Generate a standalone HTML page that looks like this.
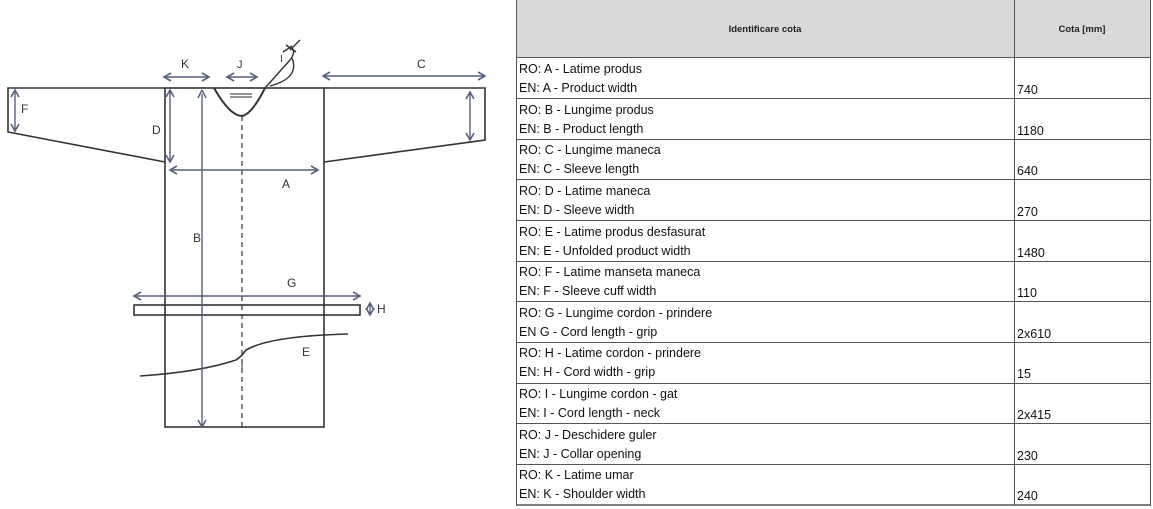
<!DOCTYPE html>
<html><head><meta charset="utf-8"><style>
html,body{margin:0;padding:0;background:#fff;}
svg{display:block;font-family:"Liberation Sans",sans-serif;}
</style></head><body>
<svg width="1153" height="509" viewBox="0 0 1153 509" xmlns="http://www.w3.org/2000/svg">
<defs>
<marker id="a" markerWidth="10" markerHeight="10" refX="8" refY="5" orient="auto-start-reverse" markerUnits="userSpaceOnUse">
<path d="M1,1 L8,5 L1,9" fill="none" stroke="#56607f" stroke-width="1.6"/></marker>
</defs>
<g stroke="#333" stroke-width="1.6" fill="none">
<rect x="165" y="88" width="159" height="339"/>
<path d="M165,88 L8,88 L8,132 L165,162"/>
<path d="M324,88 L485,88 L485,140 L324,162"/>
<path d="M214,88 Q230,116 242,116 Q252,114 265,88" stroke-width="2"/>
<path d="M265,88 L290,60 Q296,52 292,48 M270,86 Q300,78 292,58" stroke-width="1.4"/>
<path d="M283,52 L292,46 M286,45 L296,52 M290,50 L300,40" stroke-width="1.4"/>
<line x1="230" y1="94" x2="252" y2="94" stroke="#555" stroke-width="1.3"/>
<line x1="230" y1="97" x2="252" y2="97" stroke="#555" stroke-width="1.3"/>
<line x1="242" y1="116" x2="242" y2="427" stroke-dasharray="5,4" stroke-width="1.2"/>
<rect x="134" y="305" width="226" height="10" stroke-width="1.6"/>
<path d="M140,376 Q200,372 236,360 Q242,356 246,350 Q270,336 348,334" stroke-width="1.6"/>
<line x1="242" y1="362" x2="242" y2="372" stroke-width="1"/>
</g>
<g stroke="#56607f" stroke-width="1.4" fill="none" marker-start="url(#a)" marker-end="url(#a)">
<line x1="164" y1="77" x2="209" y2="77"/>
<line x1="227" y1="77" x2="257" y2="77"/>
<line x1="323" y1="76" x2="485" y2="76"/>
<line x1="15" y1="90" x2="15" y2="131"/>
<line x1="470" y1="92" x2="470" y2="140"/>
<line x1="170" y1="90" x2="170" y2="162"/>
<line x1="170" y1="170" x2="318" y2="170"/>
<line x1="134" y1="296" x2="360" y2="296"/>
<line x1="370" y1="303" x2="370" y2="315"/>
</g>
<line x1="202" y1="94" x2="202" y2="427" stroke="#56607f" stroke-width="1.4" marker-end="url(#a)"/>
<path d="M202,90 L198,98 M202,90 L206,98" stroke="#56607f" stroke-width="1.4"/>
<g fill="#333" font-size="12">
<text x="181" y="68">K</text><text x="237" y="68" font-size="11">J</text>
<text x="417" y="68">C</text><text x="21" y="113">F</text>
<text x="152" y="134">D</text><text x="282" y="188">A</text>
<text x="193" y="242">B</text><text x="287" y="287">G</text>
<text x="377" y="313">H</text><text x="302" y="356">E</text>
<text x="280" y="62" font-size="10">I</text>
</g>
<rect x="516" y="0" width="635" height="57" fill="#d9d9d9"/>
<g stroke="#555" stroke-width="1" fill="none">
<line x1="516.5" y1="0" x2="516.5" y2="505"/>
<line x1="1014.5" y1="0" x2="1014.5" y2="505"/>
<line x1="1150.5" y1="0" x2="1150.5" y2="505"/>
<line x1="516" y1="505" x2="1151" y2="505" stroke-width="1.5"/>
</g>
<g font-size="9.5" font-weight="bold" fill="#222">
<text x="765" y="32" text-anchor="middle">Identificare cota</text>
<text x="1082" y="32" text-anchor="middle">Cota [mm]</text>
</g>
<g font-size="12.5" fill="#111">
<g stroke="#555" stroke-width="1">
<line x1="516" y1="57.5" x2="1151" y2="57.5"/>
<line x1="516" y1="98.5" x2="1151" y2="98.5"/>
<line x1="516" y1="139.5" x2="1151" y2="139.5"/>
<line x1="516" y1="179.5" x2="1151" y2="179.5"/>
<line x1="516" y1="220.5" x2="1151" y2="220.5"/>
<line x1="516" y1="261.5" x2="1151" y2="261.5"/>
<line x1="516" y1="301.5" x2="1151" y2="301.5"/>
<line x1="516" y1="342.5" x2="1151" y2="342.5"/>
<line x1="516" y1="383.5" x2="1151" y2="383.5"/>
<line x1="516" y1="423.5" x2="1151" y2="423.5"/>
<line x1="516" y1="464.5" x2="1151" y2="464.5"/>
</g>
<text x="519" y="73">RO: A - Latime produs</text><text x="519" y="92">EN: A - Product width</text><text x="1017" y="94">740</text>
<text x="519" y="114">RO: B - Lungime produs</text><text x="519" y="133">EN: B - Product length</text><text x="1017" y="135">1180</text>
<text x="519" y="154">RO: C - Lungime maneca</text><text x="519" y="173">EN: C - Sleeve length</text><text x="1017" y="175">640</text>
<text x="519" y="195">RO: D - Latime maneca</text><text x="519" y="214">EN: D - Sleeve width</text><text x="1017" y="216">270</text>
<text x="519" y="236">RO: E - Latime produs desfasurat</text><text x="519" y="255">EN: E - Unfolded product width</text><text x="1017" y="257">1480</text>
<text x="519" y="276">RO: F - Latime manseta maneca</text><text x="519" y="295">EN: F - Sleeve cuff width</text><text x="1017" y="297">110</text>
<text x="519" y="317">RO: G - Lungime cordon - prindere</text><text x="519" y="336">EN G - Cord length - grip</text><text x="1017" y="338">2x610</text>
<text x="519" y="357">RO: H - Latime cordon - prindere</text><text x="519" y="376">EN: H - Cord width - grip</text><text x="1017" y="378">15</text>
<text x="519" y="398">RO: I - Lungime cordon - gat</text><text x="519" y="417">EN: I - Cord length - neck</text><text x="1017" y="419">2x415</text>
<text x="519" y="439">RO: J - Deschidere guler</text><text x="519" y="458">EN: J - Collar opening</text><text x="1017" y="460">230</text>
<text x="519" y="479">RO: K - Latime umar</text><text x="519" y="498">EN: K - Shoulder width</text><text x="1017" y="500">240</text>
</g>
</svg>
</body></html>
